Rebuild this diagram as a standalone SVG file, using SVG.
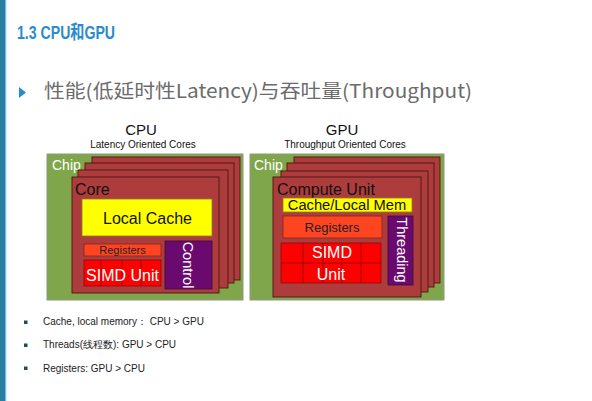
<svg xmlns="http://www.w3.org/2000/svg" width="592" height="401" viewBox="0 0 592 401">
<style>
.t{font-family:"Liberation Sans",Arial,sans-serif}
.chip{fill:#80a64c;stroke:#8c9a80;stroke-width:1}
.core{fill:#ad3c3c;stroke:#4d1414;stroke-width:0.9}
.cache{fill:#ffff00;stroke:#8a7a30;stroke-width:0.8}
.reg{fill:#ff4422;stroke:#7a2a1a;stroke-width:0.8}
.simd{fill:#ff0000;stroke:#8a0a0a;stroke-width:0.8}
.grid{stroke:#8a0a0a;stroke-width:0.8}
.ctl{fill:#6a0a6e;stroke:#3a0a3a;stroke-width:0.8}
.bul{fill:#1d4e5e}
.bt{font-size:10px;fill:#222}
</style>
<rect width="592" height="401" fill="#ffffff"/>
<g id="sidebar">
<rect x="0" y="0" width="5" height="401" fill="#2e7d9c"/>
<rect x="5" y="0" width="1.2" height="401" fill="#5cc6e6"/>
</g>
<g id="header">
<text x="17" y="39" font-family="'Liberation Sans Narrow','Liberation Sans','Noto Sans CJK SC',sans-serif" font-weight="bold" font-size="19" fill="#2a8ccc" textLength="98" lengthAdjust="spacingAndGlyphs">1.3 CPU和GPU</text>
<polygon points="19,87 26,92.5 19,98" fill="#2a8ccc"/>
<text x="44" y="98" font-family="'Noto Sans CJK SC','Noto Sans',sans-serif" font-size="19" fill="#6b6b6b" textLength="428" lengthAdjust="spacingAndGlyphs">性能(低延时性Latency)与吞吐量(Throughput)</text>
</g>
<g id="cpu">
<text x="141" y="135" class="t" font-size="15" text-anchor="middle" fill="#111">CPU</text>
<text x="143" y="148" class="t" font-size="10" text-anchor="middle" fill="#111">Latency Oriented Cores</text>
<rect class="chip" x="47" y="154" width="196" height="146"/>
<text x="52" y="170" class="t" font-size="14" fill="#ffffff">Chip</text>
<rect class="core" x="92" y="157" width="148" height="123"/>
<rect class="core" x="85" y="163" width="149" height="120"/>
<rect class="core" x="78" y="170" width="150" height="118"/>
<rect class="core" x="72" y="177" width="147" height="116"/>
<text x="75" y="195" class="t" font-size="16" fill="#111">Core</text>
<rect class="cache" x="82" y="199" width="130" height="37"/>
<text x="147.5" y="224" class="t" font-size="16" text-anchor="middle" fill="#111">Local Cache</text>
<rect class="reg" x="84" y="244" width="77" height="12"/>
<text x="122.5" y="254" class="t" font-size="11" text-anchor="middle" fill="#222">Registers</text>
<rect class="simd" x="84" y="260" width="77" height="26"/>
<line class="grid" x1="101" y1="260" x2="101" y2="286"/>
<line class="grid" x1="122" y1="260" x2="122" y2="286"/>
<line class="grid" x1="141" y1="260" x2="141" y2="286"/>
<text x="122.5" y="281" class="t" font-size="16" text-anchor="middle" fill="#ffffff">SIMD Unit</text>
<rect class="ctl" x="165" y="241" width="47" height="48"/>
<text transform="translate(183,265) rotate(90)" class="t" font-size="14.5" text-anchor="middle" fill="#ffffff">Control</text>
</g>
<g id="gpu">
<text x="342" y="135" class="t" font-size="15" text-anchor="middle" fill="#111">GPU</text>
<text x="345" y="148" class="t" font-size="10" text-anchor="middle" fill="#111">Throughput Oriented Cores</text>
<rect class="chip" x="250" y="154" width="194" height="146"/>
<text x="254" y="170" class="t" font-size="14" fill="#ffffff">Chip</text>
<rect class="core" x="294" y="157" width="146" height="126"/>
<rect class="core" x="287" y="163" width="147" height="124"/>
<rect class="core" x="281" y="171" width="147" height="121"/>
<rect class="core" x="273" y="177" width="148" height="120"/>
<text x="277" y="195" class="t" font-size="16" fill="#111">Compute Unit</text>
<rect class="cache" x="283" y="198" width="129" height="14"/>
<text x="347" y="210" class="t" font-size="14.7" text-anchor="middle" fill="#111">Cache/Local Mem</text>
<rect class="reg" x="283" y="216" width="99" height="22"/>
<text x="332" y="232" class="t" font-size="13" text-anchor="middle" fill="#222">Registers</text>
<rect class="simd" x="281" y="243" width="100" height="40"/>
<line class="grid" x1="303" y1="243" x2="303" y2="283"/>
<line class="grid" x1="323" y1="243" x2="323" y2="283"/>
<line class="grid" x1="342" y1="243" x2="342" y2="283"/>
<line class="grid" x1="361" y1="243" x2="361" y2="283"/>
<line class="grid" x1="281" y1="263" x2="381" y2="263"/>
<text x="332" y="258" class="t" font-size="16" text-anchor="middle" fill="#ffffff">SIMD</text>
<text x="331" y="280" class="t" font-size="16" text-anchor="middle" fill="#ffffff">Unit</text>
<rect class="ctl" x="388" y="216" width="25" height="69"/>
<text transform="translate(397,250) rotate(90)" class="t" font-size="14.5" text-anchor="middle" fill="#ffffff">Threading</text>
</g>
<g id="bullets">
<rect class="bul" x="24" y="320.5" width="3.5" height="3.5"/>
<text x="43" y="325" class="t bt" font-family="'Liberation Sans','Noto Sans CJK SC',sans-serif">Cache, local memory：  CPU &gt; GPU</text>
<rect class="bul" x="24" y="343.5" width="3.5" height="3.5"/>
<text x="43" y="348" class="t bt" font-family="'Liberation Sans','Noto Sans CJK SC',sans-serif">Threads(线程数): GPU &gt; CPU</text>
<rect class="bul" x="24" y="366.5" width="3.5" height="3.5"/>
<text x="43" y="372" class="t bt">Registers: GPU &gt; CPU</text>
</g>
</svg>
